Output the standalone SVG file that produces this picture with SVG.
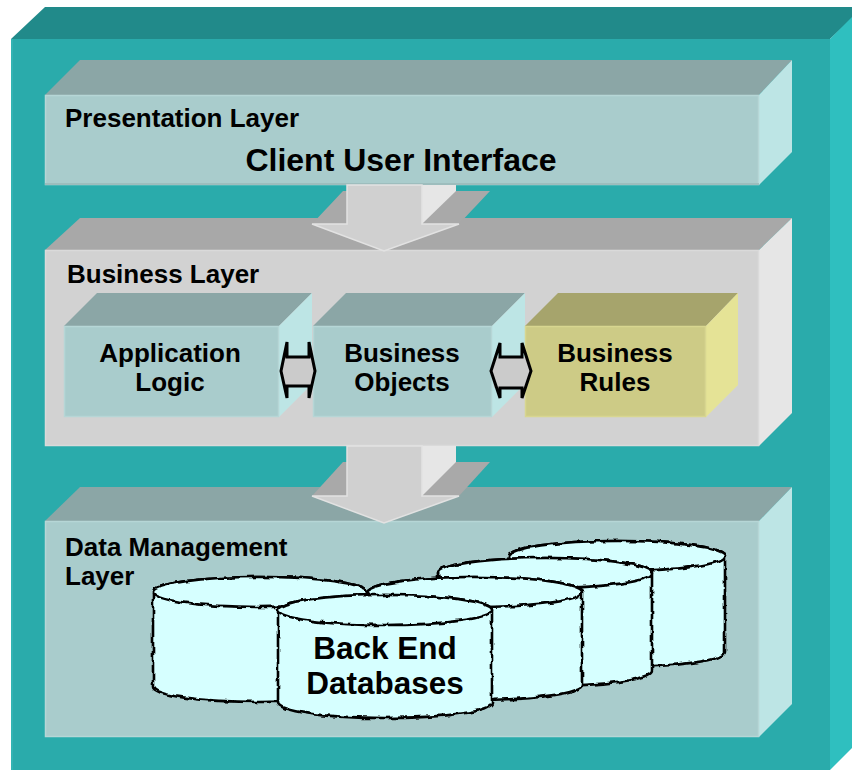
<svg xmlns="http://www.w3.org/2000/svg" width="852" height="770" viewBox="0 0 852 770">
<style>
.lbl{font-family:'Liberation Sans',Arial,Helvetica,sans-serif;font-weight:bold;fill:#000}
.tealF{fill:#a9cccc;stroke:#b6d6d6;stroke-width:1.5}
.tealT{fill:#8ba6a6}
.tealS{fill:#bde5e5}
.greyF{fill:#d2d2d2;stroke:#dadada;stroke-width:1.5}
.greyT{fill:#a8a8a8}
.greyS{fill:#e6e6e6}
.yelF{fill:#cdcb86;stroke:#d8d690;stroke-width:1.5}
.yelT{fill:#a6a46c}
.yelS{fill:#e5e396}
.arT{fill:#a9a9a9}
.arS{fill:#e6e6e6}
.arF{fill:#d0d0d0;stroke:#e2e2e2;stroke-width:1.5}
.dbl{fill:none;stroke:#000;stroke-width:3;stroke-linejoin:miter}
.band{fill:#cbcbcb}
.cyl{fill:#d6ffff;stroke:#000;stroke-width:2.6;stroke-linejoin:round}
</style>
<defs>
<filter id="wavy" x="-10%" y="-20%" width="120%" height="140%">
<feTurbulence type="fractalNoise" baseFrequency="0.11" numOctaves="2" seed="5" result="n"/>
<feDisplacementMap in="SourceGraphic" in2="n" scale="4.5" xChannelSelector="R" yChannelSelector="G"/>
</filter>
</defs>

<g id="outer-frame">
<polygon points="11,39 45,7 864,7 830,39" fill="#218a8a"/>
<polygon points="830,39 864,5 864,736 830,770" fill="#2fbfbf"/>
<rect x="11" y="39" width="819" height="740" fill="#2aabab"/>
<line x1="12" y1="39" x2="12" y2="770" stroke="#33b3b3" stroke-width="2"/>
</g>

<g id="presentation-layer">
<polygon class="tealT" points="45,95 80,60 792,60 759,95"/>
<polygon class="tealS" points="759,95 792,60 792,152 759,185"/>
<rect class="tealF" x="45.5" y="95.5" width="713" height="89"/>
<line x1="45" y1="184" x2="759" y2="184" stroke="#9dbdbd" stroke-width="2"/>
<text class="lbl" x="65" y="127" font-size="26">Presentation Layer</text>
<text class="lbl" x="401" y="171" font-size="32" text-anchor="middle">Client User Interface</text>
</g>

<g id="business-layer">
<polygon class="greyT" points="45,250 80,218 792,218 759,250"/>
<polygon class="greyS" points="759,250 792,218 792,413 759,446"/>
<rect class="greyF" x="45.5" y="250.5" width="713" height="195"/>
<text class="lbl" x="67" y="283" font-size="26">Business Layer</text>
</g>

<g id="data-layer">
<polygon class="tealT" points="45,521 80,487 792,487 759,521"/>
<polygon class="tealS" points="759,521 792,487 792,704 759,737"/>
<rect class="tealF" x="45.5" y="521.5" width="713" height="215"/>
<text class="lbl" x="65" y="556" font-size="26">Data Management</text>
<text class="lbl" x="65" y="585" font-size="26">Layer</text>
</g>

<g id="application-logic">
<polygon class="tealT" points="64,326 97,293 312,293 279,326"/>
<polygon class="tealS" points="279,326 312,293 312,384 279,417"/>
<rect class="tealF" x="64.5" y="326.5" width="214" height="90"/>
<text class="lbl" x="170" y="362" font-size="26" text-anchor="middle">Application</text>
<text class="lbl" x="170" y="391" font-size="26" text-anchor="middle">Logic</text>
</g>

<g id="business-objects">
<polygon class="tealT" points="313,326 346,293 525,293 492,326"/>
<polygon class="tealS" points="492,326 525,293 525,384 492,417"/>
<rect class="tealF" x="313.5" y="326.5" width="178" height="90"/>
<text class="lbl" x="402" y="362" font-size="26" text-anchor="middle">Business</text>
<text class="lbl" x="402" y="391" font-size="26" text-anchor="middle">Objects</text>
</g>

<g id="business-rules">
<polygon class="yelT" points="525,326 558,293 738,293 706,326"/>
<polygon class="yelS" points="706,326 738,293 738,385 706,417"/>
<rect class="yelF" x="525.5" y="326.5" width="180" height="90"/>
<text class="lbl" x="615" y="362" font-size="26" text-anchor="middle">Business</text>
<text class="lbl" x="615" y="391" font-size="26" text-anchor="middle">Rules</text>
</g>

<g id="databases" filter="url(#wavy)">
<g id="db1">
<path class="cyl" d="M509,556 V652 A108,15 0 0 0 725,652 V556 A108,15 0 0 0 509,556 Z"/>
<ellipse class="cyl" cx="617" cy="556" rx="108" ry="15"/>
</g>
<g id="db2">
<path class="cyl" d="M438,573 V671 A107,15 0 0 0 652,671 V573 A107,15 0 0 0 438,573 Z"/>
<ellipse class="cyl" cx="545" cy="573" rx="107" ry="15"/>
</g>
<g id="db3">
<path class="cyl" d="M368,592 V685 A107,15 0 0 0 582,685 V592 A107,15 0 0 0 368,592 Z"/>
<ellipse class="cyl" cx="475" cy="592" rx="107" ry="15"/>
</g>
<g id="db4">
<path class="cyl" d="M153,592 V687 A107,15 0 0 0 367,687 V592 A107,15 0 0 0 153,592 Z"/>
<ellipse class="cyl" cx="260" cy="592" rx="107" ry="15"/>
</g>
<g id="db5">
<path class="cyl" d="M278,610 V703 A107,15 0 0 0 492,703 V610 A107,15 0 0 0 278,610 Z"/>
<ellipse class="cyl" cx="385" cy="610" rx="107" ry="15"/>
</g>
</g>
<text class="lbl" x="385" y="659" font-size="31.5" text-anchor="middle">Back End</text>
<text class="lbl" x="385" y="694" font-size="31.5" text-anchor="middle">Databases</text>

<g id="connectors">
<g id="arrow-presentation-business">
<polygon class="arT" points="312,224 459,224 490,191 343,191"/>
<polygon class="arS" points="422,185 456,185 456,191 422,224"/>
<polygon class="arF" points="347,185 422,185 422,224 459,224 384,251 312,224 347,224"/>
</g>
<g id="arrow-business-data">
<polygon class="arT" points="312,496 459,496 490,462 343,462"/>
<polygon class="arS" points="422,446 456,446 456,462 422,496"/>
<polygon class="arF" points="347,446 422,446 422,496 459,496 384,523 312,496 347,496"/>
</g>
<g id="arrow-logic-objects">
<polygon class="band" points="284,357 312,357 315,371 312,386 284,386 281,371"/>
<polygon class="dbl" points="281,371 287,342 287,357 309,357 309,342 315,371 309,398 309,386 287,386 287,398"/>
</g>
<g id="arrow-objects-rules">
<polygon class="band" points="494,357 527,357 531,371 527,388 494,388 491,371"/>
<polygon class="dbl" points="491,371 500,343 500,357 522,357 522,343 531,371 522,398 522,388 500,388 500,398"/>
</g>
</g>
</svg>
